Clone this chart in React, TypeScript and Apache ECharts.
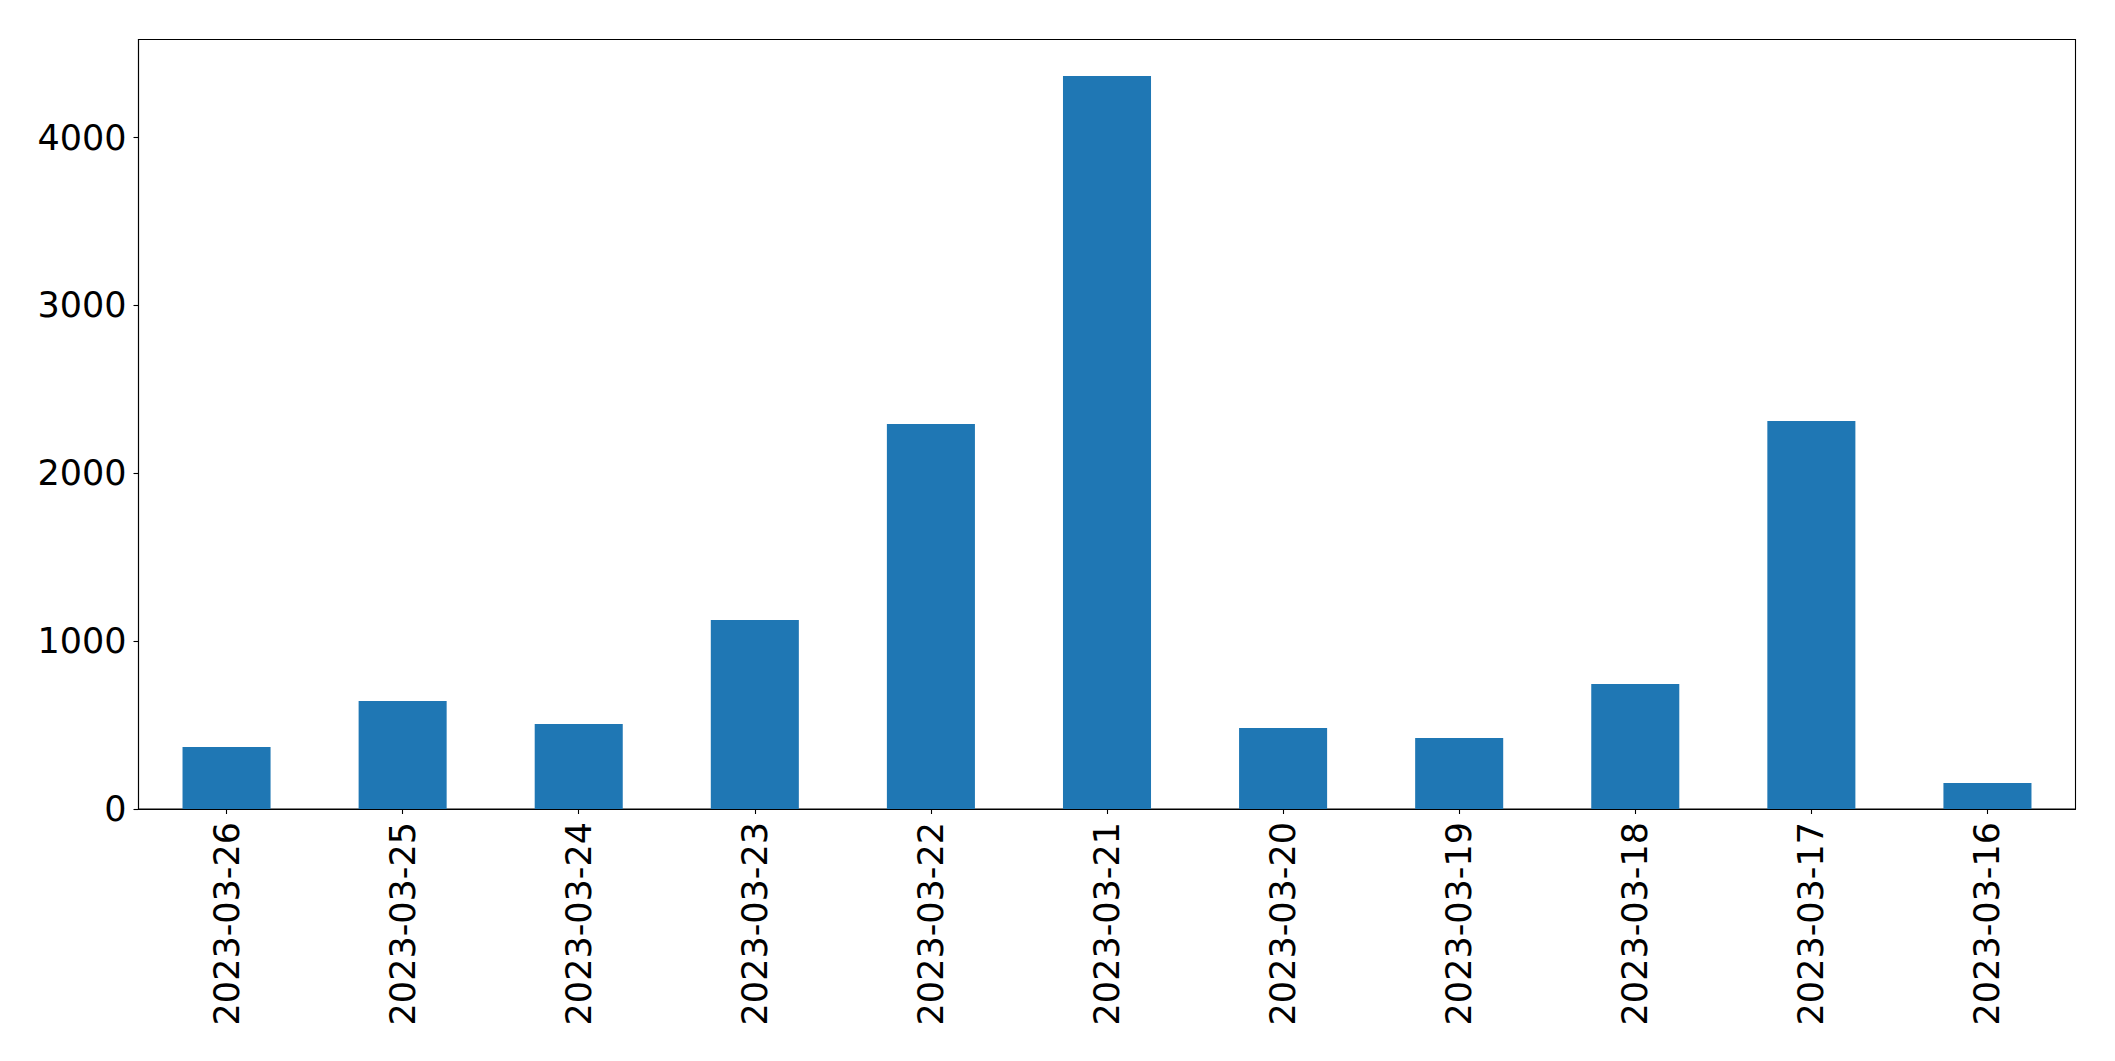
import React, { useEffect, useRef } from "react";
import * as echarts from "echarts";

const categories = [
  "2023-03-26",
  "2023-03-25",
  "2023-03-24",
  "2023-03-23",
  "2023-03-22",
  "2023-03-21",
  "2023-03-20",
  "2023-03-19",
  "2023-03-18",
  "2023-03-17",
  "2023-03-16",
];
const values = [369, 643, 506, 1126, 2293, 4367, 482, 423, 744, 2311, 155];
const yMax = 4584;
const yInterval = 1000;

export default function App() {
  const ref = useRef<HTMLDivElement>(null);
  useEffect(() => {
    if (!ref.current) return;
    const chart = echarts.init(ref.current, undefined, { renderer: "svg" });
    const font = "DejaVu Sans";
    chart.setOption({
      animation: false,
      backgroundColor: "#ffffff",
      grid: {
        left: 138.5,
        top: 39.5,
        right: 39.5,
        bottom: 252,
        show: true,
        borderColor: "#000000",
        borderWidth: 1.1,
        backgroundColor: "transparent",
      },
      xAxis: {
        type: "category",
        data: categories,
        boundaryGap: true,
        axisLine: { show: true, lineStyle: { color: "#000", width: 1.1 } },
        axisTick: {
          show: true,
          alignWithLabel: true,
          length: 5,
          lineStyle: { color: "#000", width: 1.1 },
        },
        axisLabel: {
          rotate: 90,
          margin: 13,
          fontSize: 35,
          fontFamily: font,
          color: "#000",
          interval: 0,
        },
        splitLine: { show: false },
      },
      yAxis: {
        type: "value",
        min: 0,
        max: yMax,
        interval: yInterval,
        axisLine: { show: true, lineStyle: { color: "#000", width: 1.1 } },
        axisTick: {
          show: true,
          length: 5,
          lineStyle: { color: "#000", width: 1.1 },
        },
        axisLabel: {
          margin: 12,
          fontSize: 35,
          fontFamily: font,
          color: "#000",
          showMaxLabel: false,
          formatter: (v: number) => (v % yInterval === 0 ? String(v) : ""),
        },
        splitLine: { show: false },
      },
      series: [
        {
          type: "bar",
          data: values,
          barWidth: "50%",
          itemStyle: { color: "#1f77b4" },
        },
      ],
    });
    return () => chart.dispose();
  }, []);
  return (
    <div
      ref={ref}
      style={{
        position: "absolute",
        left: 0,
        top: 0,
        width: 2115,
        height: 1061,
        background: "#fff",
      }}
    />
  );
}
